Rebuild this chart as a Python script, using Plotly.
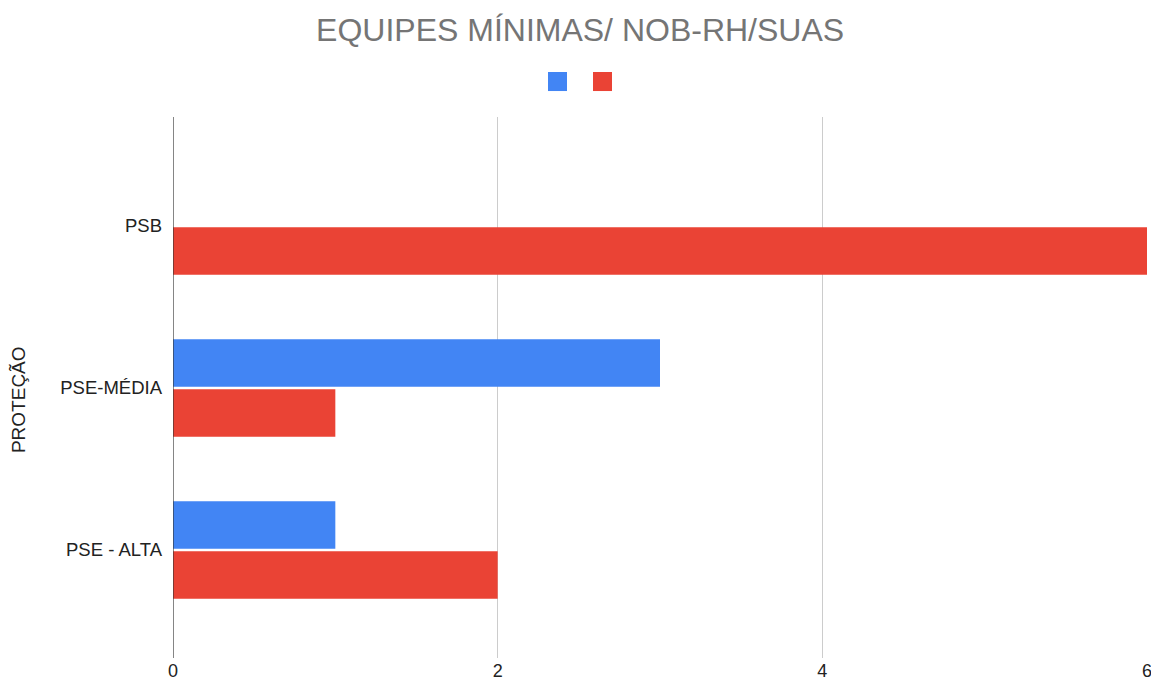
import plotly.graph_objects as go

categories = ["PSB", "PSE-MÉDIA", "PSE - ALTA"]
serie_azul = [0, 3, 1]
serie_vermelha = [6, 1, 2]
x_ticks = [0, 2, 4, 6]
cores = ["#4285F4", "#EA4335"]

fig = go.Figure()
fig.add_trace(go.Bar(y=categories, x=serie_azul, orientation="h", name=" ",
                     marker=dict(color=cores[0], line=dict(width=0))))
fig.add_trace(go.Bar(y=categories, x=serie_vermelha, orientation="h", name=" ",
                     marker=dict(color=cores[1], line=dict(width=0))))

# legend swatches (the original legend has no labels)
for i, c in enumerate(cores):
    x0 = 0.385 + i * 0.0462
    fig.add_shape(type="rect", xref="paper", yref="paper",
                  x0=x0, x1=x0 + 0.0195, y0=1.048, y1=1.0832,
                  fillcolor=c, line=dict(width=0), layer="above")

# y-axis title
fig.add_annotation(text="PROTEÇÃO", xref="paper", yref="paper", x=-0.158, y=0.477,
                   textangle=-90, showarrow=False, xanchor="center", yanchor="middle",
                   font=dict(size=19, color="#222222"))

fig.update_layout(
    width=1151, height=684,
    margin=dict(l=173, r=4, t=117, b=26, autoexpand=False),
    paper_bgcolor="white", plot_bgcolor="white",
    barmode="group", bargap=0.383, bargroupgap=0.05,
    font=dict(family="Liberation Sans, Arial, sans-serif", size=18, color="#222222"),
    title=dict(text="EQUIPES MÍNIMAS/ NOB-RH/SUAS", x=0.504, xref="container", xanchor="center",
               y=0.957, yref="container", yanchor="middle",
               font=dict(size=32, color="#757575")),
    showlegend=False,
    xaxis=dict(range=[0, 6], tickvals=x_ticks, showgrid=True, gridcolor="#cccccc",
               gridwidth=1, zeroline=False, showline=False, ticks="",
               automargin=False, ticklabeloverflow="allow",
               tickfont=dict(size=18, color="#222222")),
    yaxis=dict(categoryorder="array", categoryarray=categories,
               range=[2.667, -0.673], showgrid=False, zeroline=False,
               showline=False, ticks="", ticklabelstandoff=10, automargin=False,
               tickfont=dict(size=18.5, color="#222222")),
)
fig.add_vline(x=0, line=dict(color="#333333", width=1.2))
fig.write_html("out.html", post_script="document.body.style.margin='0';",
               config={"displayModeBar": False})
